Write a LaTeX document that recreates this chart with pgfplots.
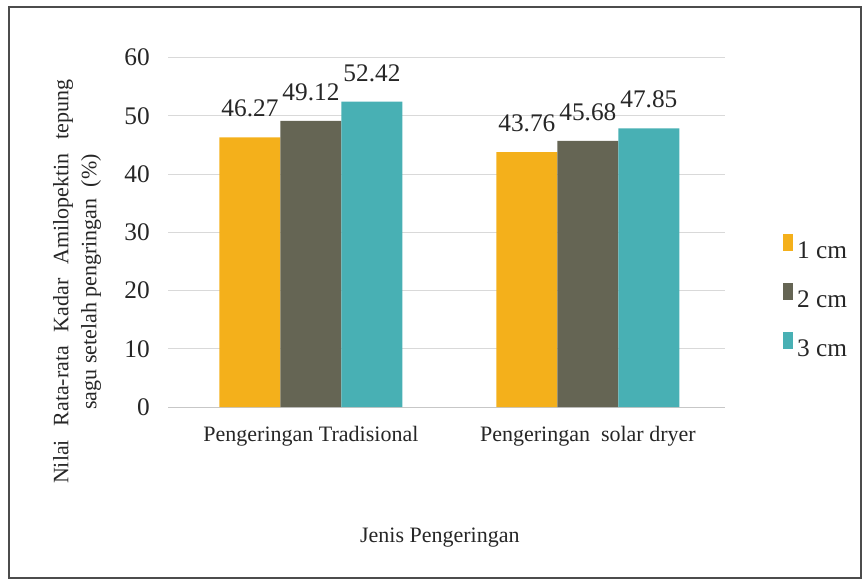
\documentclass[border=0pt]{standalone}
\usepackage{pgfplots}
\pgfplotsset{compat=1.18}
\usepackage{fontspec}
\setmainfont{Liberation Serif}
\definecolor{cOrange}{HTML}{F4B01B}
\definecolor{cGray}{HTML}{656554}
\definecolor{cTeal}{HTML}{48B0B4}
\definecolor{cGrid}{HTML}{D9D9D9}
\begin{document}
\begin{tikzpicture}
\useasboundingbox (-126pt,-130.3pt) rectangle (521.25pt,305.4pt);
\draw[line width=1.8pt, black!70] (-119.25pt,-128pt) rectangle (519.75pt,300.2pt);
\begin{axis}[
  at={(0,0)}, anchor=south west,
  scale only axis,
  width=417.75pt, height=262.3pt,
  ybar=0pt, bar width=45.75pt,
  xmin=-0.516, xmax=1.495,
  ymin=0, ymax=60, ytick distance=10,
  xtick={0,1},
  xticklabels={Pengeringan Tradisional, Pengeringan\ \ solar dryer},
  /pgf/number format/assume math mode=true,
  major tick length=0pt,
  ymajorgrids, grid style={cGrid, line width=0.8pt},
  separate axis lines,
  y axis line style={draw=none},
  x axis line style={draw=black!22, line width=0.8pt},
  axis x line*=bottom,
  axis y line*=left,
  yticklabel style={font=\fontsize{19}{22}\selectfont, inner sep=0pt, anchor=east, xshift=-13.5pt, text=black!85},
  xticklabel style={font=\fontsize{16.5}{19}\selectfont, inner sep=0pt, anchor=north, yshift=-14pt, text=black!85},
  xlabel={Jenis Pengeringan},
  xlabel style={font=\fontsize{16.5}{19}\selectfont, at={(rel axis cs:0.488,0)}, anchor=center, yshift=-98pt, text=black!85},
  ylabel={{\spaceskip=0.62em\relax Nilai Rata-rata Kadar Amilopektin tepung}\\sagu setelah pengringan\ \ (\%)},
  ylabel style={font=\fontsize{16.5}{21}\selectfont, align=center, at={(rel axis cs:-0.163,0.358)}, anchor=center, text=black!85},
  nodes near coords={\pgfmathprintnumber[fixed,precision=2,fixed zerofill]{\pgfplotspointmeta}},
  every node near coord/.append style={font=\fontsize{19}{22}\selectfont, inner sep=0pt, anchor=south, yshift=15pt, text=black!85},
  legend style={draw=none, fill=none, at={(rel axis cs:1.104,0.318)}, anchor=west, inner sep=0pt,
    font=\fontsize{19}{22}\selectfont, text=black!85, row sep=17pt,
    nodes={inner sep=0pt}},
  legend cell align=left,
  /tikz/every odd column/.append style={column sep=3pt},
  legend image code/.code={\fill[#1] (0pt,0pt) rectangle (7.5pt,12.75pt);},
]
\addplot[fill=cOrange, draw=none] coordinates {(0,46.27) (1,43.76)};
\addplot[fill=cGray, draw=none] coordinates {(0,49.12) (1,45.68)};
\addplot[fill=cTeal, draw=none] coordinates {(0,52.42) (1,47.85)};
\legend{1 cm, 2 cm, 3 cm}
\end{axis}
\end{tikzpicture}
\end{document}
